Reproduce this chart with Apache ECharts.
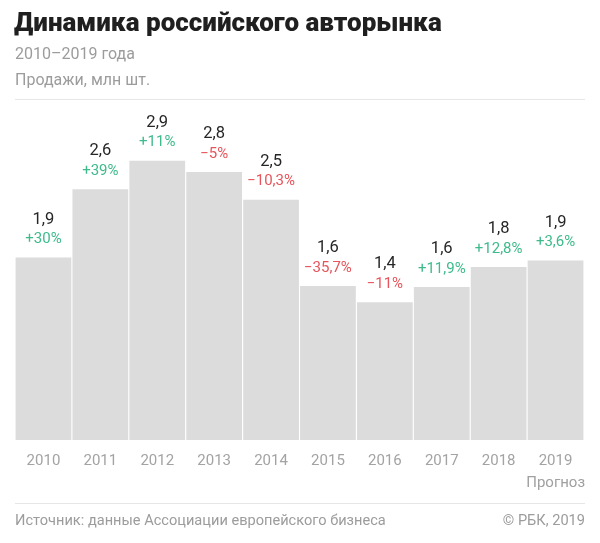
<!DOCTYPE html>
<html>
<head>
<meta charset="utf-8">
<script src="https://cdn.jsdelivr.net/npm/echarts@6/dist/echarts.min.js"></script>
<style>
html,body{margin:0;padding:0;background:#fff;}
#chart{width:600px;height:543px;}
</style>
</head>
<body>
<div id="chart"></div>
<script>
var years = ['2010','2011','2012','2013','2014','2015','2016','2017','2018','2019'];
var sales = [1.92, 2.64, 2.94, 2.82, 2.53, 1.62, 1.45, 1.61, 1.82, 1.89];
var salesLabels = ['1,9','2,6','2,9','2,8','2,5','1,6','1,4','1,6','1,8','1,9'];
var changeLabels = ['+30%','+39%','+11%','−5%','−10,3%','−35,7%','−11%','+11,9%','+12,8%','+3,6%'];

var FONT = 'Roboto, "Noto Sans", sans-serif';
var chart = echarts.init(document.getElementById('chart'));

var data = sales.map(function (v, i) {
  var neg = changeLabels[i].charAt(0) !== '+';
  return {
    value: v,
    label: {
      formatter: '{v|' + salesLabels[i] + '}\n{' + (neg ? 'r' : 'g') + '|' + changeLabels[i] + '}'
    }
  };
});

chart.setOption({
  animation: false,
  backgroundColor: '#fff',
  title: [
    {text: 'Динамика российского авторынка', left: 14, top: 10, padding: 0,
     textStyle: {fontFamily: FONT, fontSize: 26, fontWeight: 900, color: '#1f1f1f', lineHeight: 28}},
    {text: '2010–2019 года', left: 15, top: 46, padding: 0,
     textStyle: {fontFamily: FONT, fontSize: 16, fontWeight: 'normal', color: '#9c9c9c', lineHeight: 18}},
    {text: 'Продажи, млн шт.', left: 15, top: 71.5, padding: 0,
     textStyle: {fontFamily: FONT, fontSize: 16, fontWeight: 'normal', color: '#9c9c9c', lineHeight: 18}},
    {text: 'Прогноз', right: 15, top: 475, padding: 0,
     textStyle: {fontFamily: FONT, fontSize: 15, fontWeight: 'normal', color: '#a0a0a0', lineHeight: 17}},
    {text: 'Источник: данные Ассоциации европейского бизнеса', left: 15, top: 512.5, padding: 0,
     textStyle: {fontFamily: FONT, fontSize: 14.6, fontWeight: 'normal', color: '#9c9c9c', lineHeight: 17}},
    {text: '© РБК, 2019', right: 15, top: 512.5, padding: 0,
     textStyle: {fontFamily: FONT, fontSize: 14.6, fontWeight: 'normal', color: '#9c9c9c', lineHeight: 17}}
  ],
  graphic: [
    {type: 'line', shape: {x1: 15, y1: 99.5, x2: 585, y2: 99.5}, style: {stroke: '#e6e6e6', lineWidth: 1}},
    {type: 'line', shape: {x1: 15, y1: 503.5, x2: 585, y2: 503.5}, style: {stroke: '#e6e6e6', lineWidth: 1}}
  ],
  grid: {left: 15, right: 16, top: 155, bottom: 103, containLabel: false},
  xAxis: {
    type: 'category',
    data: years,
    axisLine: {show: false},
    axisTick: {show: false},
    axisLabel: {fontFamily: FONT, fontSize: 15, color: '#a3a3a3', margin: 14}
  },
  yAxis: {
    type: 'value', min: 0, max: 3,
    show: false,
    splitLine: {show: false}
  },
  series: [{
    type: 'bar',
    data: data,
    barWidth: '98%',
    itemStyle: {color: '#dcdcdc'},
    label: {
      show: true,
      position: 'top',
      distance: 8,
      align: 'center',
      rich: {
        v: {fontFamily: FONT, fontSize: 16.5, color: '#262626', lineHeight: 20, align: 'center'},
        g: {fontFamily: FONT, fontSize: 15, color: '#3dbb8b', lineHeight: 20, align: 'center'},
        r: {fontFamily: FONT, fontSize: 15, color: '#e5555b', lineHeight: 20, align: 'center'}
      }
    }
  }]
});
</script>
</body>
</html>
